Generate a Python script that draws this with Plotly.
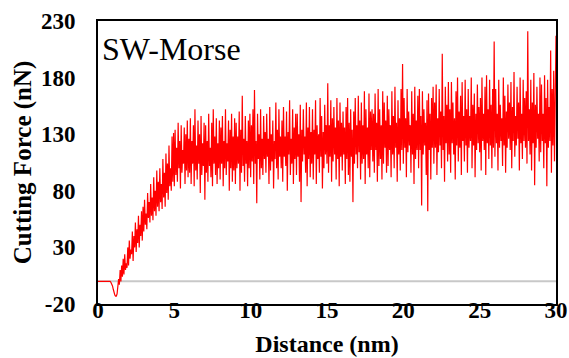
import plotly.graph_objects as go

# Distance axis: 0.00 .. 30.00 nm, step 0.05
x_start, x_step = 0.0, 0.05

force_rows = [
    [0, 0, 0, 0, 0, 0, 0, 0, 0, 0, 0, 0, 0, 0, 0, 0, 0, -1, -2, -4],
    [-7, -10, -12, -13, -13, -11, -6, 2, -3, 10, 0, 14, 4, 20, 6, 24, 10, 16, 12, 30],
    [14, 36, 20, 28, 24, 44, 18, 40, 30, 52, 26, 46, 34, 58, 30, 50, 40, 62, 36, 66],
    [44, 72, 50, 60, 46, 78, 56, 70, 52, 86, 58, 74, 54, 92, 62, 80, 58, 98, 66, 88],
    [62, 100, 70, 86, 64, 108, 74, 96, 66, 113, 78, 104, 72, 120, 84, 100, 80, 128, 88, 131],
    [84, 134, 94, 118, 88, 140, 100, 124, 82, 138, 96, 116, 104, 136, 86, 130, 98, 142, 92, 126],
    [96, 144, 86, 124, 104, 138, 84, 152, 98, 120, 90, 142, 104, 130, 78, 146, 94, 122, 102, 140],
    [72, 138, 96, 124, 88, 148, 102, 118, 92, 140, 84, 152, 104, 128, 94, 144, 86, 122, 100, 142],
    [90, 136, 104, 146, 84, 124, 100, 152, 94, 122, 106, 142, 80, 134, 100, 148, 88, 128, 98, 144],
    [86, 140, 100, 128, 104, 150, 80, 134, 96, 164, 102, 126, 88, 146, 104, 124, 84, 142, 100, 148],
    [92, 138, 106, 152, 86, 169, 104, 124, 69, 148, 108, 130, 90, 152, 100, 126, 94, 146, 108, 132],
    [96, 148, 110, 126, 86, 154, 98, 130, 106, 142, 82, 124, 108, 158, 100, 134, 90, 152, 110, 128],
    [100, 142, 88, 154, 110, 128, 102, 150, 80, 132, 112, 160, 94, 126, 104, 152, 86, 136, 108, 148],
    [94, 148, 110, 130, 88, 156, 70, 134, 106, 152, 112, 128, 96, 158, 84, 136, 108, 154, 92, 132],
    [104, 152, 90, 134, 112, 160, 86, 138, 108, 130, 96, 162, 110, 146, 82, 132, 100, 156, 112, 138],
    [104, 175, 96, 138, 110, 160, 88, 144, 106, 154, 112, 136, 90, 162, 108, 142, 84, 158, 110, 140],
    [98, 150, 112, 136, 86, 154, 108, 162, 94, 140, 88, 152, 110, 134, 70, 150, 104, 162, 112, 138],
    [100, 164, 114, 142, 90, 158, 104, 138, 108, 168, 86, 152, 112, 136, 100, 166, 92, 150, 116, 152],
    [106, 148, 96, 166, 116, 140, 88, 170, 102, 152, 108, 138, 90, 168, 104, 158, 118, 142, 96, 164],
    [102, 152, 116, 138, 92, 168, 112, 146, 100, 172, 118, 140, 88, 160, 112, 144, 98, 170, 116, 192],
    [104, 162, 118, 144, 92, 170, 114, 150, 120, 138, 96, 168, 112, 148, 86, 172, 108, 142, 116, 164],
    [100, 170, 116, 146, 67, 168, 112, 152, 120, 140, 94, 160, 62, 166, 116, 148, 90, 162, 118, 172],
    [104, 158, 118, 174, 94, 144, 114, 170, 120, 150, 100, 201, 116, 146, 88, 172, 122, 156, 106, 176],
    [112, 152, 96, 176, 122, 158, 112, 144, 90, 168, 120, 180, 106, 150, 118, 164, 94, 176, 124, 146],
    [106, 178, 120, 152, 96, 170, 118, 146, 124, 180, 100, 156, 120, 166, 92, 148, 116, 174, 122, 154],
    [114, 162, 98, 180, 124, 148, 116, 172, 94, 182, 122, 152, 108, 178, 120, 156, 100, 170, 118, 212],
    [110, 170, 122, 148, 98, 178, 118, 156, 124, 144, 102, 180, 120, 164, 96, 150, 118, 174, 126, 158],
    [116, 176, 100, 154, 124, 185, 110, 146, 120, 172, 126, 158, 98, 180, 122, 148, 108, 178, 124, 162],
    [118, 168, 104, 221, 124, 152, 112, 178, 98, 158, 122, 184, 85, 156, 118, 172, 126, 148, 106, 180],
    [114, 174, 124, 148, 100, 182, 122, 162, 84, 178, 118, 154, 124, 204, 96, 170, 120, 186, 106, 158],
    [217],
]
force = [v for row in force_rows for v in row]
distance = [round(x_start + i * x_step, 3) for i in range(len(force))]

y_ticks = [-20, 30, 80, 130, 180, 230]
y_ticktext = ["-20", "30", "80", "130", "180", "230"]
x_ticks = [0, 5, 10, 15, 20, 25, 30]
x_ticktext = ["0", "5", "10", "15", "20", "25", "30"]
x_range = [0, 30]
y_range = [-20, 230]
label_text = "SW-Morse"

serif = "Liberation Serif"

fig = go.Figure()
fig.add_trace(go.Scatter(x=distance, y=force, mode="lines",
                         line=dict(color="#ff0000", width=1.2),
                         showlegend=False, hoverinfo="skip"))
fig.add_shape(type="line", xref="x", yref="y", x0=x_range[0], x1=x_range[1], y0=0, y1=0,
              line=dict(color="#c8c8c8", width=2), layer="below")

fig.add_annotation(text=label_text, xref="paper", yref="paper", x=0, y=1,
                   xanchor="left", yanchor="top", xshift=2, yshift=-8,
                   showarrow=False, font=dict(family=serif, size=32, color="black"))

fig.update_layout(
    width=569, height=358,
    margin=dict(l=98, r=13, t=21, b=54),
    paper_bgcolor="white", plot_bgcolor="white",
    font=dict(family=serif, color="black"),
    xaxis=dict(range=x_range, tickvals=x_ticks, showticklabels=False,
               ticks="", showgrid=False, zeroline=False, automargin=False,
               showline=True, linecolor="black", linewidth=2, mirror=True,
               title=dict(text="<b>Distance (nm)</b>",
                          font=dict(family=serif, size=24, color="black"),
                          standoff=30)),
    # tick-label axis overlaying the main x axis, lifted so labels straddle the axis line
    xaxis2=dict(range=x_range, overlaying="x", anchor="free", position=0.036, side="bottom",
                tickvals=x_ticks, ticktext=["<b>%s</b>" % t for t in x_ticktext],
                ticks="", showgrid=False, zeroline=False, showline=False, automargin=False,
                tickfont=dict(family=serif, size=23, color="black")),
    yaxis=dict(range=y_range, tickvals=y_ticks, ticktext=["<b>%s</b>" % t for t in y_ticktext],
               ticks="", showgrid=False, zeroline=False, automargin=False,
               showline=True, linecolor="black", linewidth=2, mirror=True,
               tickfont=dict(family=serif, size=23, color="black"),
               ticklabelstandoff=16,
               title=dict(text="<b>Cutting Force (nN)</b>",
                          font=dict(family=serif, size=25, color="black"),
                          standoff=2)),
)
# invisible helper trace so the label axis is drawn
fig.add_trace(go.Scatter(x=x_range, y=[None, None], xaxis="x2", mode="lines",
                         showlegend=False, hoverinfo="skip"))

fig.write_html("out.html")
